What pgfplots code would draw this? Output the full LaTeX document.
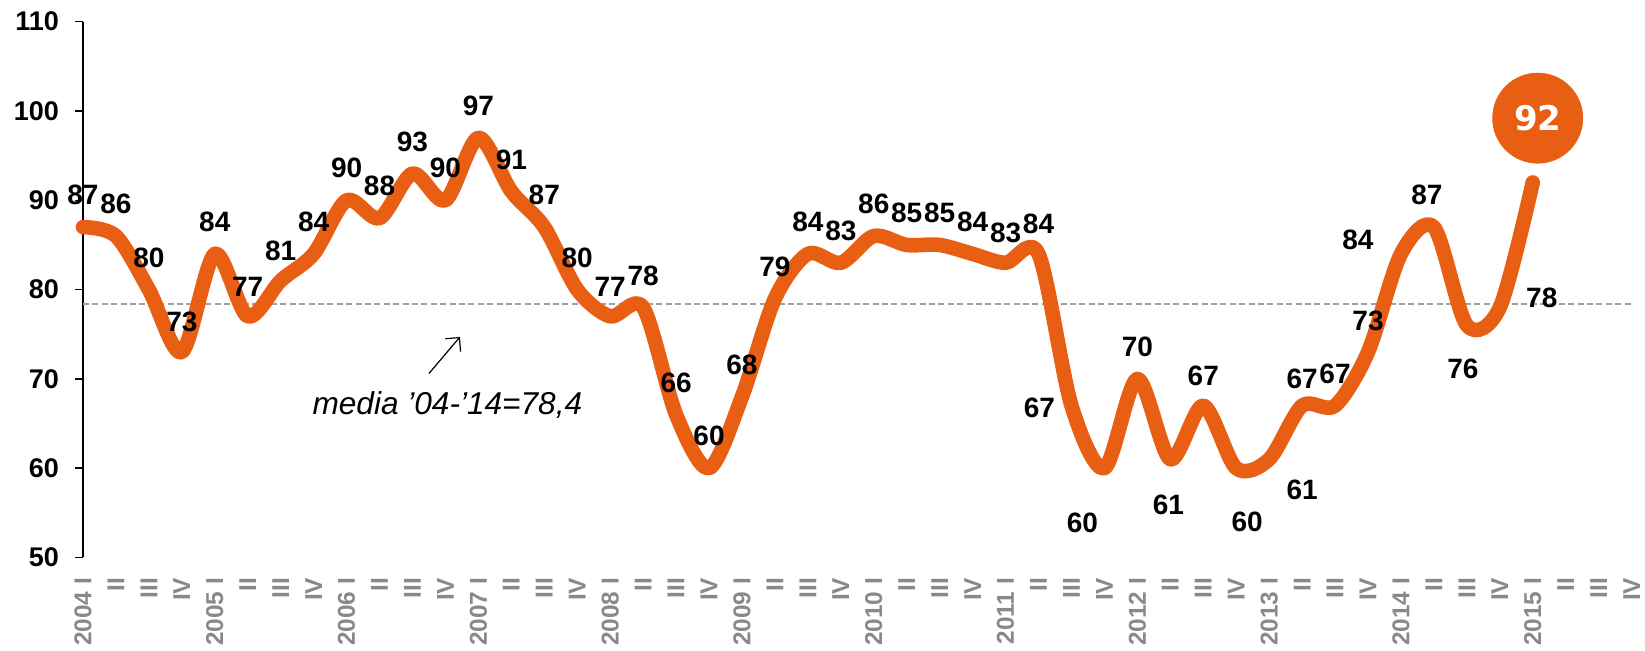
\documentclass[border=0pt]{standalone}
\usepackage{fontspec}
\setmainfont{Liberation Sans}
\newfontfamily\bubblefont{DejaVu Sans}
\usepackage{pgfplots}
\usepackage{pgfplotstable}
\usetikzlibrary{arrows.meta}
\pgfplotsset{compat=1.18}
\definecolor{lineorange}{RGB}{232,94,19}
\definecolor{ticklabgray}{RGB}{137,137,137}
\definecolor{avggray}{RGB}{160,160,160}

% quarter index, value, label shift (pt)
\pgfplotstableread{
x y dx dy
0 87 0 16
1 86 0 16
2 80 0 16
3 73 0 15
4 84 0 16
5 77 0 15
6 81 0 15
7 84 0 16
8 90 0 16
9 88 0 16
10 93 0 16
11 90 0 16
12 97 0 16
13 91 0 16
14 87 0 16
15 80 0 16
16 77 0 15
17 78 0 16
18 66 0 16
19 60 0 16
20 68 0 16
21 79 0 16
22 84 0 16
23 83 0 16
24 86 0 16
25 85 0 16
26 85 0 16
27 84 0 16
28 83 0 15
29 84 0 15
30 67 -16 -1
31 60 -11 -27.5
32 70 0 16
33 61 -1 -23
34 67 0 15
35 60 5.5 -27
36 61 16.5 -15.5
37 67 0 13.5
38 67 0 16
39 73 0 15.5
40 84 -21.5 7
41 87 -3.5 16
42 76 -2 -22
43 78 21 5
}\labeled

\pgfplotstableread{
x y
0 87
1 86
2 80
3 73
4 84
5 77
6 81
7 84
8 90
9 88
10 93
11 90
12 97
13 91
14 87
15 80
16 77
17 78
18 66
19 60
20 68
21 79
22 84
23 83
24 86
25 85
26 85
27 84
28 83
29 84
30 67
31 60
32 70
33 61
34 67
35 60
36 61
37 67
38 67
39 73
40 84
41 87
42 76
43 78
44 92
}\clima

\begin{document}
\begin{tikzpicture}
\useasboundingbox (-41.5pt,-46.75pt) rectangle (781pt,278.75pt);
\begin{axis}[
  at={(0,0)}, anchor=south west,
  scale only axis,
  width=774.3pt, height=267.9pt,
  xmin=0, xmax=47, ymin=50, ymax=110,
  axis x line*=bottom, axis y line*=left,
  x axis line style={draw=none},
  y axis line style={black, line width=0.75pt},
  tick align=outside,
  major tick length=4pt,
  ytick={50,60,...,110},
  ytick style={black, line width=0.75pt},
  xtick={0,...,47},
  xtick style={draw=none},
  xticklabels={2004 I,II,III,IV,2005 I,II,III,IV,2006 I,II,III,IV,2007 I,II,III,IV,2008 I,II,III,IV,2009 I,II,III,IV,2010 I,II,III,IV,2011 I,II,III,IV,2012 I,II,III,IV,2013 I,II,III,IV,2014 I,II,III,IV,2015 I,II,III,IV},
  xticklabel shift=6pt,
  xticklabel style={rotate=90, anchor=east, inner sep=0pt, text=ticklabgray,
    font=\fontsize{12.2}{13}\selectfont\bfseries},
  yticklabel style={font=\fontsize{13.5}{14}\selectfont\bfseries, xshift=-4.5pt},
  /pgf/number format/assume math mode=true,
  clip=false,
]
% average 2004-2014
\addplot[avggray, line width=0.75pt, dash pattern=on 3pt off 1.7pt] coordinates {(0,78.4) (47,78.4)};
% index line
\addplot[lineorange, line width=7.3pt, smooth, tension=0.5, line cap=round, line join=round] table[x=x, y=y] {\clima};
% value labels
\addplot[draw=none, mark=none,
  nodes near coords,
  point meta=explicit,
  visualization depends on={\thisrow{dx} \as \dx},
  visualization depends on={\thisrow{dy} \as \dy},
  every node near coord/.append style={anchor=center, xshift=\dx pt, yshift=\dy pt,
    font=\fontsize{14}{15}\selectfont\bfseries, text=black,
    /pgf/number format/assume math mode=true},
] table[x=x, y=y, meta=y] {\labeled};
% latest quarter bubble
\addplot[lineorange, only marks, mark=*, mark size=22.5pt,
  nodes near coords={\bubblefont\bfseries 92},
  every node near coord/.append style={anchor=center, text=white, font=\fontsize{17}{18}\selectfont}]
  coordinates {(44.15,99.2)};
\draw[-{Straight Barb[length=5pt]}, line width=0.6pt] (axis cs:10.5,70.6) -- (axis cs:11.44,74.7);
\node[font=\fontsize{15.8}{17}\selectfont\itshape] at (axis cs:11.06,67.1) {media ’04-’14=78,4};
\end{axis}
\end{tikzpicture}
\end{document}
